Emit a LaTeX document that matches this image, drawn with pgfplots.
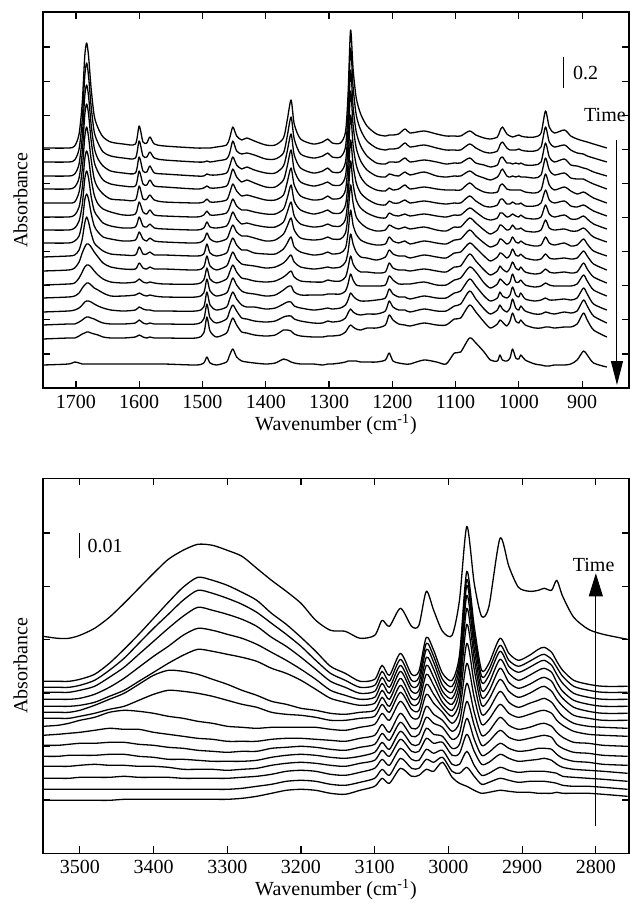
\documentclass[border=0pt]{standalone}
\usepackage{fontspec}
\setmainfont{Liberation Serif}
\usepackage{pgfplots}
\pgfplotsset{compat=1.18}
\usepackage{pgfplotstable}
\usetikzlibrary{arrows.meta}

% Fingerprint region: wavenumber, then 16 spectra (offset absorbance, arbitrary units)
\pgfplotstableread{
x c1 c2 c3 c4 c5 c6 c7 c8 c9 c10 c11 c12 c13 c14 c15 c16
1752 240 226 212 199 185 171 158 145 131 117 103 90 76 63 49 23
1712 240 226 212 199 185 171 158 145 132 118 104 91 77 64 50 24
1702 242 228 214 201 186 173 160 147 133 120 105 92 78 64 50 26
1695 254 239 224 210 196 181 167 152 138 126 110 95 80 66 52 25
1690 285 268 251 235 218 200 183 166 149 135 116 100 83 68 54 24
1686 332 312 292 273 251 229 209 188 165 141 121 103 86 70 55 24
1683 345 325 303 284 261 237 217 194 171 144 123 105 87 71 56 24
1680 332 312 292 274 251 230 210 189 166 144 123 105 87 71 56 24
1676 300 282 264 248 229 210 192 175 155 141 121 103 86 70 55 24
1671 272 256 240 226 209 193 177 162 145 136 117 100 84 69 54 24
1665 260 245 229 216 200 184 171 156 141 131 113 98 82 67 53 24
1657 251 236 222 208 194 179 165 151 137 125 109 95 80 65 51 24
1645 246 232 217 204 189 176 162 149 134 121 106 92 78 64 50 24
1625 244 230 215 202 188 173 160 147 133 119 105 92 77 64 50 24
1606 244 230 215 202 188 174 161 148 133 119 106 93 78 65 51 24
1600 262 247 231 217 202 186 171 156 141 125 109 95 81 68 53 24
1594 246 232 217 204 189 176 162 149 134 120 106 93 79 65 51 24
1588 245 231 216 203 189 174 161 147 134 119 105 92 78 64 50 24
1583 251 236 222 208 193 178 164 150 136 121 106 93 78 65 51 24
1576 244 230 215 202 188 173 160 147 133 119 105 92 77 64 50 24
1560 242 228 214 201 186 172 159 146 133 119 104 91 77 64 50 24
1510 240 226 212 199 185 171 158 145 132 118 104 91 77 64 50 23
1498 240 226 212 200 186 173 160 148 134 121 108 95 81 69 55 25
1493 240 227 214 202 189 177 166 155 144 132 120 109 96 84 71 31
1488 240 226 213 200 186 173 161 149 135 122 109 97 83 70 57 25
1478 241 227 213 200 186 173 160 146 132 118 105 92 78 65 51 23
1462 243 229 215 202 188 175 162 149 135 122 109 95 81 69 55 26
1457 250 235 222 209 195 181 168 156 143 129 116 102 89 77 63 33
1452 261 247 231 219 204 189 176 163 150 136 123 110 96 83 70 39
1446 252 237 223 211 197 182 169 156 143 129 116 103 89 77 63 31
1438 248 234 219 206 192 178 164 152 138 124 110 97 83 70 56 27
1430 250 235 221 208 193 178 165 152 138 123 109 95 81 69 55 26
1418 247 233 218 205 191 176 163 150 135 122 107 94 81 67 53 25
1400 243 229 215 201 188 174 161 147 134 120 106 92 79 66 52 24
1385 243 229 215 201 188 174 161 148 134 121 107 93 80 67 53 25
1372 250 235 222 208 193 179 166 154 139 125 111 98 84 71 58 29
1366 268 252 237 222 206 190 176 162 145 129 114 101 86 72 58 28
1360 288 271 254 238 220 203 186 170 151 133 117 102 86 72 57 26
1355 264 249 233 218 203 187 172 158 141 126 111 96 82 69 54 25
1345 249 234 220 206 192 178 164 150 136 121 107 93 80 67 52 24
1325 244 230 215 202 188 174 161 148 133 119 106 93 78 65 51 24
1310 246 232 217 204 189 176 162 149 134 120 106 93 79 65 51 23
1302 249 235 220 206 192 178 164 151 136 121 108 94 80 67 52 24
1295 245 231 216 203 189 175 162 149 134 120 107 94 79 66 52 24
1282 245 231 216 203 190 175 162 149 135 121 107 94 80 67 53 25
1274 256 241 226 212 198 183 169 155 140 126 111 97 83 70 56 26
1270 293 276 259 243 225 206 190 173 155 136 120 104 88 75 60 27
1266 358 340 318 297 273 248 227 203 178 154 132 114 95 79 63 27
1262 319 301 281 263 243 223 204 185 163 144 124 108 92 76 61 27
1257 290 273 256 240 223 205 188 171 154 136 119 103 89 74 59 27
1250 274 258 242 227 211 195 180 165 148 131 116 102 87 73 58 26
1240 262 247 232 218 203 189 175 160 145 130 116 102 87 74 60 26
1225 254 240 225 212 198 184 171 157 143 128 115 102 88 74 60 26
1211 252 238 224 211 197 183 170 158 144 131 116 103 90 77 63 28
1205 253 239 226 214 200 187 175 163 151 138 125 112 99 87 73 35
1199 253 239 226 213 198 185 173 161 147 134 120 108 94 81 68 27
1190 254 240 226 212 199 185 172 159 145 132 118 104 91 78 64 25
1180 259 245 230 216 203 188 174 161 147 132 118 104 91 78 63 24
1172 255 241 226 213 199 185 172 159 144 130 117 104 89 76 62 24
1150 257 243 228 216 201 187 174 161 147 133 119 106 92 79 65 28
1130 254 240 226 212 199 185 172 158 145 131 117 103 90 77 63 26
1115 252 238 224 211 198 184 171 157 144 130 116 103 90 77 63 24
1102 252 238 225 212 198 185 173 161 148 135 121 108 95 82 69 35
1092 252 238 225 212 198 185 173 161 149 136 122 110 97 84 70 36
1078 257 244 230 217 205 192 180 170 158 145 134 121 109 97 83 50
1068 253 240 225 213 200 187 176 165 152 140 127 116 102 89 76 45
1055 250 236 223 210 196 182 170 158 145 132 118 105 92 79 66 36
1045 249 235 221 208 195 181 168 154 141 127 113 100 87 74 60 28
1034 251 237 223 211 196 183 170 158 144 131 117 104 90 78 64 27
1030 257 243 229 215 202 188 175 163 149 135 122 109 96 83 68 33
1026 261 246 231 219 204 189 175 162 148 134 119 107 92 79 66 28
1019 254 240 225 212 199 184 171 158 144 130 116 103 90 76 62 27
1014 252 238 225 211 198 184 172 159 146 133 120 106 93 80 67 30
1010 251 238 224 212 198 186 174 163 151 139 126 114 101 89 75 39
1005 252 238 225 211 198 184 172 159 146 133 120 106 93 80 67 30
1000 253 239 224 212 198 184 171 159 145 132 118 106 91 78 65 29
997 252 238 225 211 198 185 173 160 147 134 121 108 95 82 68 33
990 251 237 223 211 196 182 170 157 144 130 116 103 89 77 63 28
975 251 237 223 210 195 182 169 156 142 128 114 101 87 74 60 24
965 255 241 226 213 198 185 171 158 143 129 115 102 88 74 60 23
958 277 261 245 230 214 198 183 168 151 134 119 105 90 76 61 22
952 261 246 231 218 203 188 174 160 145 130 116 103 88 75 61 22
944 255 241 226 213 198 185 171 158 143 129 115 102 88 74 60 23
928 258 243 229 215 201 187 173 159 145 130 116 102 89 76 61 23
918 252 238 223 210 197 182 169 157 142 129 115 102 88 75 61 24
908 249 235 222 209 194 181 169 157 143 130 116 104 90 77 64 28
898 247 234 220 209 196 183 172 160 149 137 125 113 100 88 75 37
892 246 232 219 207 194 181 169 157 144 132 119 107 94 82 68 33
882 244 230 216 204 190 177 164 151 137 124 111 98 84 72 58 25
861 240 226 212 199 185 172 159 146 132 118 105 92 78 65 51 21
}\toptable

% C-H / O-H stretching region: wavenumber, top spectrum t, then 15 spectra l1..l15
\pgfplotstableread{
x t l1 l2 l3 l4 l5 l6 l7 l8 l9 l10 l11 l12 l13 l14 l15
3550 217 172 166 161 154 147 141 135 127 118 108 97 87 75 64 53
3530 215 172 166 161 154 147 141 135 128 119 108 97 87 75 64 53
3515 215 172 166 161 154 147 141 135 130 120 109 98 87 75 64 53
3500 218 174 168 163 155 148 143 137 133 121 110 98 88 76 64 53
3480 225 179 173 167 159 151 148 140 136 123 110 98 89 76 64 53
3460 236 190 183 176 166 157 154 144 141 125 111 99 88 76 64 53
3440 250 204 195 186 175 163 160 147 143 124 111 99 88 77 64 54
3420 265 219 210 199 186 172 169 153 142 124 109 97 87 76 64 54
3400 280 235 225 212 197 181 178 159 140 121 108 96 87 76 64 54
3380 294 251 239 225 207 190 183 163 137 119 106 94 86 76 64 54
3360 303 266 253 237 218 198 182 162 135 117 105 94 84 75 64 54
3340 309 276 263 246 225 204 179 160 132 115 103 93 84 75 64 54
3320 308 273 260 243 223 202 174 157 130 114 102 92 84 75 64 54
3300 303 268 255 239 219 199 169 153 127 112 101 92 83 75 64 54
3280 297 261 249 234 215 196 163 149 126 112 102 92 84 76 65 55
3260 285 253 241 227 209 192 158 146 125 112 102 93 85 77 67 57
3240 273 240 230 216 201 185 152 141 126 114 105 96 88 79 69 60
3220 262 229 219 207 193 180 149 139 126 115 106 98 90 82 72 63
3200 250 216 207 196 184 173 145 138 126 115 107 99 91 83 73 64
3180 233 202 193 184 174 164 143 136 126 114 106 98 90 82 72 63
3160 223 187 180 172 163 155 140 133 124 113 104 96 88 79 69 60
3140 222 180 173 166 158 151 139 133 123 112 103 95 87 78 68 59
3120 215 172 166 160 154 148 141 135 126 115 106 97 90 81 71 63
3100 218 174 168 162 156 150 143 137 129 118 109 101 93 85 75 67
3090 233 188 182 176 170 163 156 149 140 129 120 111 103 94 84 75
3080 227 178 172 166 160 154 147 141 133 121 113 104 97 88 78 70
3065 245 200 194 188 182 175 168 161 152 140 131 122 114 105 95 85
3050 227 179 173 167 162 155 149 144 136 125 117 109 102 94 85 77
3040 228 182 176 170 163 157 151 143 136 127 119 109 102 93 85 78
3030 262 216 210 204 196 188 179 169 159 147 136 125 115 104 94 84
3020 243 203 197 191 184 176 168 159 150 139 130 119 110 100 91 82
3008 222 180 174 168 162 157 151 146 141 133 126 117 111 103 96 91
2995 218 173 167 161 155 149 143 137 130 122 114 105 98 89 82 76
2985 253 198 192 186 178 170 162 152 142 131 120 109 100 89 80 70
2975 327 282 274 268 258 245 229 210 190 170 152 135 119 102 86 67
2965 270 227 220 214 205 195 184 170 156 141 128 114 102 88 77 63
2955 237 183 177 171 163 156 148 139 129 118 108 98 89 78 69 60
2945 247 190 184 178 170 162 154 144 134 122 112 101 91 80 71 61
2930 315 215 208 202 194 185 174 162 149 136 123 110 99 86 75 63
2918 287 200 193 187 180 171 162 151 140 128 116 105 95 83 73 62
2905 266 193 187 181 173 165 156 146 136 124 113 102 92 81 71 61
2890 262 198 192 186 178 169 160 150 139 126 115 103 93 82 72 61
2878 263 204 197 191 183 174 165 153 142 129 117 105 94 82 72 60
2870 265 206 199 193 185 176 167 155 143 130 118 105 95 82 72 60
2860 263 201 194 188 181 172 162 151 140 127 116 104 93 81 71 60
2853 273 192 186 179 171 163 154 144 133 121 109 99 89 80 70 61
2845 257 183 177 170 162 155 147 137 128 116 105 95 86 77 68 60
2830 236 173 167 160 153 146 138 130 122 111 101 92 84 76 67 60
2810 224 169 163 156 149 142 135 127 119 110 100 91 83 75 67 60
2790 219 167 161 154 147 140 133 126 118 108 98 89 82 74 66 59
2757 214 167 161 154 147 140 133 125 117 107 97 88 80 72 64 57
}\bottable

\pgfplotsset{
  spec/.style={
    scale only axis, width=293pt, x dir=reverse,
    axis line style={line width=0.7pt},
    every tick/.style={black, line width=0.6pt},
    major tick length=3.5pt, tick align=inside,
    xtick pos=both, ytick pos=both,
    yticklabels={}, minor tick num=0,
    /pgf/number format/1000 sep={},
    /pgf/number format/assume math mode=true,
    tick label style={font=\fontsize{10}{12}\selectfont},
    label style={font=\fontsize{10}{12}\selectfont},
    ylabel={Absorbance},
    xlabel={Wavenumber (cm\textsuperscript{-1})},
    ylabel style={at={(axis description cs:-0.0384,0.5)}, anchor=center},
    xlabel style={at={(axis description cs:0.5,-0.097)}, anchor=center},
    clip=true,
  },
  curve/.style={black, line width=0.65pt, line join=round, smooth, tension=0.45, no markers},
}

\begin{document}
\begin{tikzpicture}
\begin{axis}[spec, at={(21.5pt,-194pt)}, anchor=south west, height=188pt,
  xmin=826, xmax=1752, ymin=0, ymax=376,
  xtick={900,1000,...,1700},
  ytick={34.1,68.2,102.3,136.4,170.5,204.6,238.7,272.8,306.9,341}]
\pgfplotsinvokeforeach{1,...,16}{\addplot[curve] table[x=x,y=c#1]{\toptable};}
\draw[line width=0.6pt] (axis cs:930,300) -- (axis cs:930,331);
\node[anchor=west, inner sep=0pt, font=\fontsize{10}{12}\selectfont] at (axis cs:915,315) {0.2};
\node[anchor=center, inner sep=0pt, font=\fontsize{10}{12}\selectfont] at (axis cs:864,273) {Time};
\draw[line width=0.5pt, -{Triangle[length=12pt,width=6pt]}] (axis cs:845,248) -- (axis cs:845,3);
\end{axis}

\begin{axis}[spec, at={(21.5pt,-426.65pt)}, anchor=south west, height=187.5pt,
  xmin=2755, xmax=3550, ymin=0, ymax=375,
  xtick={2800,2900,...,3500},
  ytick={53.4,106.8,160.2,213.6,267,320.4}]
\addplot[curve] table[x=x,y=t]{\bottable};
\pgfplotsinvokeforeach{1,...,15}{\addplot[curve] table[x=x,y=l#1]{\bottable};}
\draw[line width=0.6pt] (axis cs:3501,295) -- (axis cs:3501,320);
\node[anchor=west, inner sep=0pt, font=\fontsize{10}{12}\selectfont] at (axis cs:3490,307) {0.01};
\node[anchor=center, inner sep=0pt, font=\fontsize{10}{12}\selectfont] at (axis cs:2803,288) {Time};
\draw[line width=0.5pt, -{Triangle[length=11.5pt,width=7pt]}] (axis cs:2800,27) -- (axis cs:2800,280);
\end{axis}
\pgfresetboundingbox
\useasboundingbox (0,0) rectangle (315.5pt,-457.5pt);
\end{tikzpicture}
\end{document}
